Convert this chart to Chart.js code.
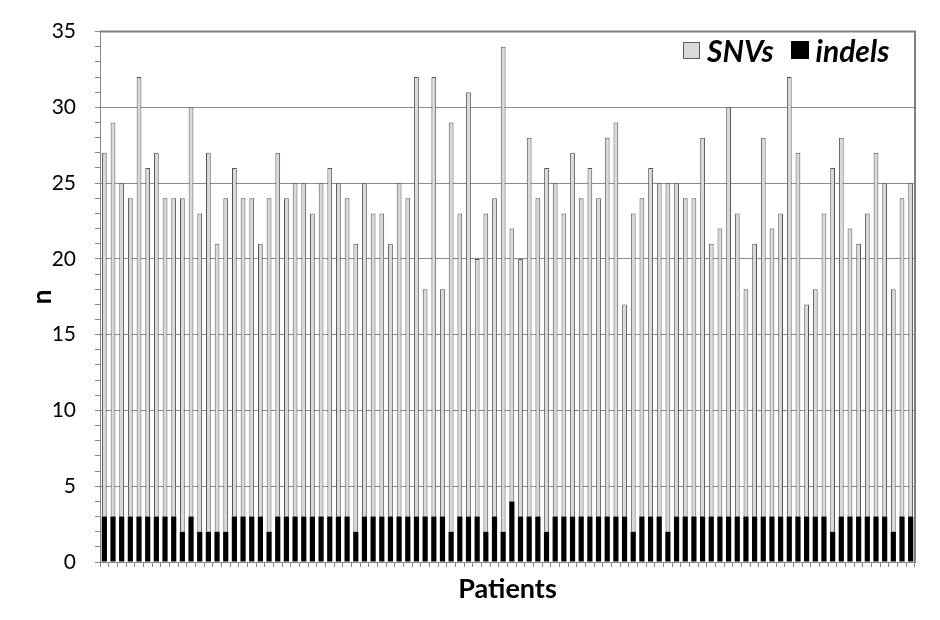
<!DOCTYPE html>
<html>
<head>
<meta charset="utf-8">
<title>SNVs and indels per patient</title>
<script src="https://cdn.jsdelivr.net/npm/chart.js@4.4.1/dist/chart.umd.min.js"></script>
<style>
  html, body { margin: 0; padding: 0; background: #fff; }
  #wrap { position: relative; width: 940px; height: 620px; }
  #legend {
    position: absolute; left: 683px; top: 32px;
    font-family: Lato, "Open Sans", sans-serif; font-weight: bold; font-style: italic;
    font-size: 30px; color: #000; display: flex; align-items: center; white-space: nowrap;
  }
  .sw { display: inline-block; width: 17px; height: 17px; box-sizing: border-box; margin-right: 7px; }
  .sw.snv { background: #d9d9d9; border: 1px solid #5a5a5a; }
  .sw.indel { background: #000; width: 18px; height: 18px; margin-left: 17px; }
</style>
</head>
<body>
<div id="wrap">
  <canvas id="chart" width="940" height="620"></canvas>
  <div id="legend"><span class="sw snv"></span>SNVs<span class="sw indel"></span>indels</div>
</div>
<script>
// values, one per patient (94 patients)
const indels = [
  3, 3, 3, 3, 3, 3, 3, 3, 3, 2,
  3, 2, 2, 2, 2, 3, 3, 3, 3, 2,
  3, 3, 3, 3, 3, 3, 3, 3, 3, 2,
  3, 3, 3, 3, 3, 3, 3, 3, 3, 3,
  2, 3, 3, 3, 2, 3, 2, 4, 3, 3,
  3, 2, 3, 3, 3, 3, 3, 3, 3, 3,
  3, 2, 3, 3, 3, 2, 3, 3, 3, 3,
  3, 3, 3, 3, 3, 3, 3, 3, 3, 3,
  3, 3, 3, 3, 2, 3, 3, 3, 3, 3,
  3, 2, 3, 3
];
const snvs = [
  24, 26, 22, 21, 29, 23, 24, 21, 21, 22,
  27, 21, 25, 19, 22, 23, 21, 21, 18, 22,
  24, 21, 22, 22, 20, 22, 23, 22, 21, 19,
  22, 20, 20, 18, 22, 21, 29, 15, 29, 15,
  27, 20, 28, 17, 21, 21, 32, 18, 17, 25,
  21, 24, 22, 20, 24, 21, 23, 21, 25, 26,
  14, 21, 21, 23, 22, 23, 22, 21, 21, 25,
  18, 19, 27, 20, 15, 18, 25, 19, 20, 29,
  24, 14, 15, 20, 24, 25, 19, 18, 20, 24,
  22, 16, 21, 22
];
const patients = snvs.map((_, i) => 'Patient ' + (i + 1));
const yTicks = [0, 5, 10, 15, 20, 25, 30, 35];

const FONT = 'Lato, "Open Sans", sans-serif';
const AXIS_GREY = '#868686';

// top and right edges of the plot box
const frame = {
  id: 'frame',
  afterDraw(chart) {
    const { ctx, chartArea: a } = chart;
    ctx.save();
    ctx.strokeStyle = '#7f7f7f';
    ctx.lineWidth = 2;
    ctx.beginPath();
    ctx.moveTo(a.left, a.top);
    ctx.lineTo(a.right, a.top);
    ctx.lineTo(a.right, a.bottom);
    ctx.stroke();
    ctx.restore();
  }
};

new Chart(document.getElementById('chart'), {
  type: 'bar',
  data: {
    labels: patients,
    datasets: [
      {
        label: 'indels',
        data: indels,
        backgroundColor: '#000000',
        borderWidth: 0,
        barPercentage: 0.6,
        categoryPercentage: 1
      },
      {
        label: 'SNVs',
        data: snvs,
        backgroundColor: '#d9d9d9',
        borderColor: '#555555',
        borderWidth: 1,
        borderSkipped: 'bottom',
        barPercentage: 0.55,
        categoryPercentage: 1
      }
    ]
  },
  options: {
    responsive: false,
    animation: false,
    layout: { padding: { top: 31, right: 25, left: 0, bottom: 0 } },
    plugins: {
      legend: { display: false },
      tooltip: { enabled: false }
    },
    scales: {
      x: {
        stacked: true,
        afterFit: s => { s.height = 58; },
        grid: {
          drawOnChartArea: false,
          tickLength: 5,
          tickColor: AXIS_GREY
        },
        border: { color: AXIS_GREY, width: 1 },
        ticks: { display: false },
        title: {
          display: true,
          text: 'Patients',
          color: '#000',
          font: { family: FONT, size: 27, weight: 'bold' },
          padding: { top: 0, bottom: 15 }
        }
      },
      y: {
        stacked: true,
        min: 0,
        max: 35,
        afterFit: s => { s.width = 100; },
        afterBuildTicks: s => {
          const all = [];
          for (let v = 0; v <= 35; v++) all.push({ value: v });
          s.ticks = all;
        },
        grid: {
          tickLength: 5,
          lineWidth: 1,
          color: c => (yTicks.includes(c.tick.value) && c.tick.value > 0 && c.tick.value < 35) ? '#8c8c8c' : 'rgba(0,0,0,0)',
          tickColor: AXIS_GREY
        },
        border: { color: AXIS_GREY, width: 1 },
        ticks: {
          autoSkip: false,
          padding: 19,
          color: '#000',
          font: { family: FONT, size: 21 },
          callback: v => yTicks.includes(v) ? String(v) : ''
        },
        title: {
          display: true,
          text: 'n',
          color: '#000',
          font: { family: FONT, size: 26, weight: 'bold' },
          padding: { top: 27, bottom: 0 }
        }
      }
    }
  },
  plugins: [frame]
});
</script>
</body>
</html>
